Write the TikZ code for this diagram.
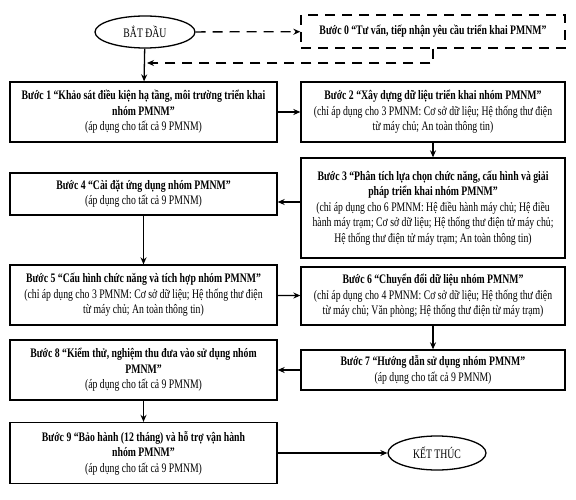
\documentclass[tikz,border=0pt]{standalone}
\usepackage{fontspec}
\setmainfont{Liberation Serif}[FakeStretch=0.75]
\usepackage{tikz}
\usetikzlibrary{arrows.meta,positioning,calc,shapes.geometric}

\begin{document}
\begin{tikzpicture}[x=1pt,y=-1pt,font=\fontsize{13}{15.5}\selectfont,
  line width=1.3pt,
  lbox/.style={draw,rectangle,minimum width=267pt,align=center,inner sep=2pt},
  rbox/.style={draw,rectangle,minimum width=264pt,align=center,inner sep=2pt},
  oval/.style={draw,ellipse,minimum width=100pt,minimum height=32pt,inner sep=1pt},
  arr/.style={-{Stealth[length=7pt,width=6pt]}},
  dsh/.style={dash pattern=on 10pt off 7pt}]
\useasboundingbox (0,0) rectangle (576,500);
\node[oval] (start) at (145,32) {BẮT ĐẦU};
\node[rbox,dsh,minimum height=33pt,font=\fontsize{13}{15.5}\selectfont\bfseries] (s0) at (433,31.5) {Bước 0 “Tư vấn, tiếp nhận yêu cầu triển khai PMNM”};
\node[lbox,minimum height=60pt] (s1) at (143.5,112) {\textbf{Bước 1 “Khảo sát điều kiện hạ tầng, môi trường triển khai}\\\textbf{nhóm PMNM”}\\(áp dụng cho tất cả 9 PMNM)};
\node[rbox,minimum height=60pt] (s2) at (433,112) {\textbf{Bước 2 “Xây dựng dữ liệu triển khai nhóm PMNM”}\\(chỉ áp dụng cho 3 PMNM: Cơ sở dữ liệu; Hệ thống thư điện\\từ máy chủ; An toàn thông tin)};
\node[rbox,minimum height=100pt] (s3) at (433,208) {\textbf{Bước 3 “Phân tích lựa chọn chức năng, cấu hình và giải}\\\textbf{pháp triển khai nhóm PMNM”}\\(chỉ áp dụng cho 6 PMNM: Hệ điều hành máy chủ; Hệ điều\\hành máy trạm; Cơ sở dữ liệu; Hệ thống thư điện tử máy chủ;\\Hệ thống thư điện tử máy trạm; An toàn thông tin)};
\node[lbox,minimum height=42pt] (s4) at (143.5,194) {\textbf{Bước 4 “Cài đặt ứng dụng nhóm PMNM”}\\(áp dụng cho tất cả 9 PMNM)};
\node[lbox,minimum height=60pt] (s5) at (143.5,295) {\textbf{Bước 5 “Cấu hình chức năng và tích hợp nhóm PMNM”}\\(chỉ áp dụng cho 3 PMNM: Cơ sở dữ liệu; Hệ thống thư điện\\từ máy chủ; An toàn thông tin)};
\node[rbox,minimum height=58pt] (s6) at (433,296) {\textbf{Bước 6 “Chuyển đổi dữ liệu nhóm PMNM”}\\(chỉ áp dụng cho 4 PMNM: Cơ sở dữ liệu; Hệ thống thư điện\\từ máy chủ; Văn phòng; Hệ thống thư điện từ máy trạm)};
\node[rbox,minimum height=40pt] (s7) at (433,370) {\textbf{Bước 7 “Hướng dẫn sử dụng nhóm PMNM”}\\(áp dụng cho tất cả 9 PMNM)};
\node[lbox,minimum height=60pt] (s8) at (143.5,370) {\textbf{Bước 8 “Kiểm thử, nghiệm thu đưa vào sử dụng nhóm}\\\textbf{PMNM”}\\(áp dụng cho tất cả 9 PMNM)};
\node[lbox,minimum height=61pt] (s9) at (143.5,453) {\textbf{Bước 9 “Bảo hành (12 tháng) và hỗ trợ vận hành}\\\textbf{nhóm PMNM”}\\(áp dụng cho tất cả 9 PMNM)};
\node[oval,minimum width=98pt,minimum height=34pt] (end) at (437,453) {KẾT THÚC};
\coordinate (ret) at (147,63);
\draw[arr,dsh] (start) -- (s0);
\draw[dsh,arr] (s0.south) |- (ret);
\draw[arr] (start) -- (s1);
\draw[arr] (s1) -- (s2);
\draw[arr] (s2) -- (s3);
\draw[arr] ([yshift=6pt]s3.west) -- ([yshift=6pt]s3.west -| s4.east);
\draw[arr] (s4) -- (s5);
\draw[arr] (s5) -- (s6);
\draw[arr] (s6) -- (s7);
\draw[arr] (s7) -- (s8);
\draw[arr] (s8) -- (s9);
\draw[arr] (s9) -- (end);
\end{tikzpicture}
\end{document}
